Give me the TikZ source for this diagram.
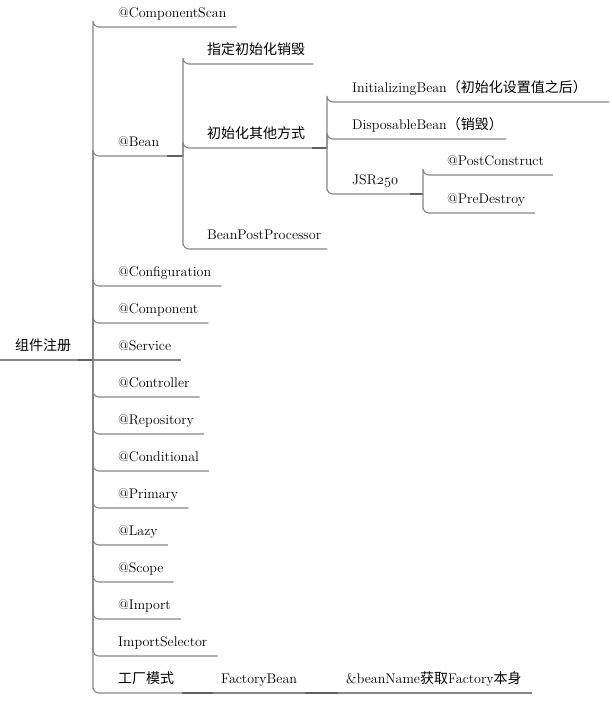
\documentclass[tikz,border=0pt]{standalone}
\usepackage{fontspec}
\newfontfamily\cjk{Noto Sans CJK SC}
\newcommand\osnum[1]{{\fontencoding{OML}\fontfamily{cmm}\fontseries{m}\fontshape{it}\selectfont #1}}

\tikzset{
    leaf/.style={anchor=south west, inner sep=0pt, text depth=9pt,
                 font=\fontsize{14pt}{16pt}\selectfont},
    branch/.style={draw=black!48, line width=1.1pt, rounded corners=6pt},
    link/.style={draw=black!62, line width=1.7pt},
}

\begin{document}
\begin{tikzpicture}[x=1pt, y=-1pt]
    \useasboundingbox (0,0) rectangle (611,706);

    % root
    \node[leaf] (root) at (15,360) {\cjk 组件注册};
    \coordinate (hub) at (93,360);
    \draw[branch] ([xshift=-15pt]root.south west) -- ([xshift=7pt]root.south east);
    \draw[link] ([xshift=7pt]root.south east) -- (hub);

    % first level
    \node[leaf] (cscan) at (118,27) {@ComponentScan};
    \draw[branch] (hub) |- ([xshift=-25pt]cscan.south west) -- ([xshift=10pt]cscan.south east);

    \node[leaf] (bean) at (118,156) {@Bean};
    \draw[branch] (hub) |- ([xshift=-25pt]bean.south west) -- ([xshift=8pt]bean.south east);

    \node[leaf] (svc) at (118,360) {@Service};
    \draw[branch] (hub) -- ([xshift=10pt]svc.south east);

    \foreach \nm/\txt/\y in {cfg/@Configuration/286, comp/@Component/323,
            ctrl/@Controller/397, repo/@Repository/434, cond/@Conditional/471,
            prim/@Primary/508, lazy/@Lazy/545, scope/@Scope/582,
            imp/@Import/619, isel/ImportSelector/656} {
        \node[leaf] (\nm) at (118,\y) {\txt};
        \draw[branch] (hub) |- ([xshift=-25pt]\nm.south west) -- ([xshift=10pt]\nm.south east);
    }

    % factory chain
    \node[leaf] (fact) at (118,693) {\cjk 工厂模式};
    \draw[branch] (hub) |- ([xshift=-25pt]fact.south west) -- ([xshift=8pt]fact.south east);
    \node[leaf] (fbean) at (221,693) {FactoryBean};
    \node[leaf] (self) at (346,693) {\&beanName{\cjk 获取}Factory{\cjk 本身}};
    \draw[branch] ([xshift=-8pt]fbean.south west) -- ([xshift=8pt]fbean.south east);
    \draw[branch] ([xshift=-8pt]self.south west) -- ([xshift=10pt]self.south east);
    \draw[link] ([xshift=8pt]fact.south east) -- ([xshift=-8pt]fbean.south west);
    \draw[link] ([xshift=8pt]fbean.south east) -- ([xshift=-8pt]self.south west);

    % @Bean
    \coordinate (bhub) at (183,156);
    \draw[link] ([xshift=8pt]bean.south east) -- (bhub);
    \node[leaf] (ctor) at (207,64) {\cjk 指定初始化销毁};
    \node[leaf] (other) at (207,148) {\cjk 初始化其他方式};
    \node[leaf] (bpp) at (207,249) {BeanPostProcessor};
    \foreach \nm/\pad in {ctor/8, other/7, bpp/6}
        \draw[branch] (bhub) |- ([xshift=-24pt]\nm.south west) -- ([xshift=\pad pt]\nm.south east);

    % other ways
    \coordinate (ohub) at (327,148);
    \draw[link] ([xshift=7pt]other.south east) -- (ohub);
    \node[leaf] (ibean) at (352,102) {InitializingBean{\cjk（初始化设置值之后）}};
    \node[leaf] (dbean) at (352,139) {DisposableBean{\cjk（销毁）}};
    \node[leaf] (jsr) at (352,194) {JSR\osnum{250}};
    \foreach \nm/\pad in {ibean/22, dbean/3, jsr/12}
        \draw[branch] (ohub) |- ([xshift=-25pt]\nm.south west) -- ([xshift=\pad pt]\nm.south east);

    % JSR250
    \coordinate (jhub) at (423,194);
    \draw[link] ([xshift=12pt]jsr.south east) -- (jhub);
    \node[leaf] (pcon) at (447,175) {@PostConstruct};
    \node[leaf] (pdes) at (447,213) {@PreDestroy};
    \foreach \nm/\pad in {pcon/9, pdes/10}
        \draw[branch] (jhub) |- ([xshift=-24pt]\nm.south west) -- ([xshift=\pad pt]\nm.south east);

\end{tikzpicture}
\end{document}
